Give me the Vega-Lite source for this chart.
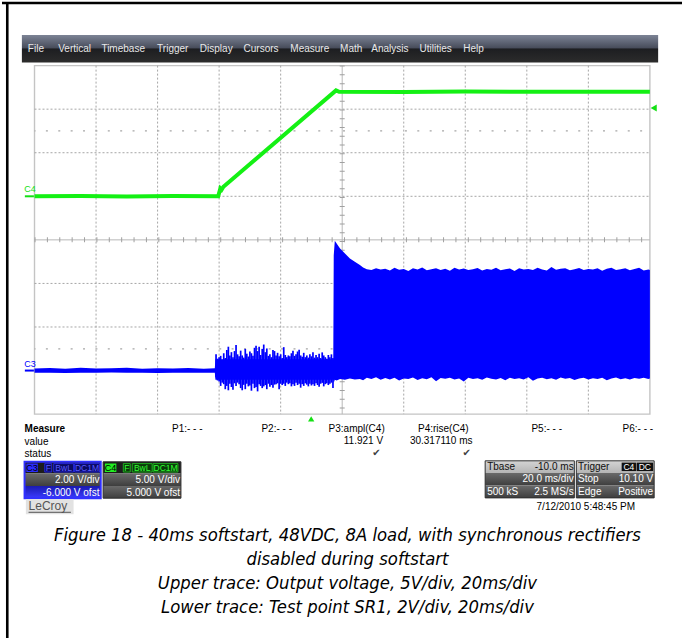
{
"$schema":"https://vega.github.io/schema/vega-lite/v6.json",
"width":684,"height":640,
"autosize":{"type":"fit","contains":"padding"},
"padding":0,
"background":"#ffffff",
"config":{"view":{"stroke":null},"text":{"font":"Liberation Sans","fontSize":10}},
"datasets":{
"border":[{"gx":-0.4426,"gy":-1.4599,"gx2":-0.4426,"gy2":13.1387},{"gx":-0.5283,"gy":-1.4371,"gx2":10.5218,"gy2":-1.4371}],
"menubar":[{"gx":-0.2052,"gy":-0.7003,"gx2":10.1341,"gy2":-0.0684}],
"menu":[{"label":"File","gx":-0.108,"gy":-0.3764},{"label":"Vertical","gx":0.385,"gy":-0.3764},{"label":"Timebase","gx":1.087,"gy":-0.3764},{"label":"Trigger","gx":1.992,"gy":-0.3764},{"label":"Display","gx":2.687,"gy":-0.3764},{"label":"Cursors","gx":3.397,"gy":-0.3764},{"label":"Measure","gx":4.157,"gy":-0.3764},{"label":"Math","gx":4.965,"gy":-0.3764},{"label":"Analysis","gx":5.473,"gy":-0.3764},{"label":"Utilities","gx":6.257,"gy":-0.3764},{"label":"Help","gx":6.968,"gy":-0.3764}],
"gridbox":[{"gx":0,"gy":0,"gx2":10,"gy2":8}],
"gridDotted":[{"gx":1,"gy":0,"gx2":1,"gy2":8},{"gx":2,"gy":0,"gx2":2,"gy2":8},{"gx":3,"gy":0,"gx2":3,"gy2":8},{"gx":4,"gy":0,"gx2":4,"gy2":8},{"gx":6,"gy":0,"gx2":6,"gy2":8},{"gx":7,"gy":0,"gx2":7,"gy2":8},{"gx":8,"gy":0,"gx2":8,"gy2":8},{"gx":9,"gy":0,"gx2":9,"gy2":8},{"gx":0,"gy":1,"gx2":10,"gy2":1},{"gx":0,"gy":2,"gx2":10,"gy2":2},{"gx":0,"gy":3,"gx2":10,"gy2":3},{"gx":0,"gy":5,"gx2":10,"gy2":5},{"gx":0,"gy":6,"gx2":10,"gy2":6},{"gx":0,"gy":7,"gx2":10,"gy2":7}],
"centerV":[{"gx":5,"gy":0,"gx2":5,"gy2":8}],
"centerH":[{"gx":0,"gy":4,"gx2":10,"gy2":4}],
"dotRows":[{"gx":0,"gy":1.5,"gx2":10,"gy2":1.5},{"gx":0,"gy":6.5,"gx2":10,"gy2":6.5}],
"c4Label":[{"label":"C4","gx":-0.165,"gy":2.84}],
"c4Marker":[{"gx":-0.157,"gy":3,"gx2":-0.01,"gy2":3}],
"c3Label":[{"label":"C3","gx":-0.165,"gy":6.855}],
"c3Marker":[{"gx":-0.157,"gy":7,"gx2":-0.01,"gy2":7}],
"trigLevel":[{"gx":10.062,"gy":0.974}],
"trigPos":[{"gx":4.496,"gy":8.109}],
"measureHead":[{"label":"Measure","gx":-0.1616,"gy":8.3417}],
"measureLeft":[{"label":"value","gx":-0.1616,"gy":8.6291},{"label":"status","gx":-0.1616,"gy":8.9256}],
"measureRight":[{"label":"P1:- - -","gx":2.7302,"gy":8.3417},{"label":"P2:- - -","gx":4.1842,"gy":8.3417},{"label":"P3:ampl(C4)","gx":5.6914,"gy":8.3417},{"label":"P4:rise(C4)","gx":7.0533,"gy":8.3417},{"label":"P5:- - -","gx":8.5719,"gy":8.3417},{"label":"P6:- - -","gx":10.0533,"gy":8.3417},{"label":"11.921 V","gx":5.664,"gy":8.615},{"label":"30.317110 ms","gx":7.1179,"gy":8.615}],
"checks":[{"label":"✔","gx":5.5574,"gy":8.9028},{"label":"✔","gx":7.021,"gy":8.9028}],
"rowDark":[{"gx":-0.1616,"gy":9.0944,"gx2":1.076,"gy2":9.3636},{"gx":1.1147,"gy":9.0944,"gx2":2.3796,"gy2":9.3636}],
"rowLight":[{"gx":7.3231,"gy":9.0716,"gx2":8.7722,"gy2":9.3522},{"gx":8.8045,"gy":9.0716,"gx2":10.0695,"gy2":9.3522}],
"rowGrey":[{"gx":-0.1616,"gy":9.3636,"gx2":1.076,"gy2":9.6487},{"gx":1.1147,"gy":9.3636,"gx2":2.3796,"gy2":9.6487},{"gx":1.1147,"gy":9.6487,"gx2":2.3796,"gy2":9.9293},{"gx":7.3231,"gy":9.3522,"gx2":8.7722,"gy2":9.6373},{"gx":7.3231,"gy":9.6373,"gx2":8.7722,"gy2":9.9224},{"gx":8.8045,"gy":9.3522,"gx2":10.0695,"gy2":9.6373},{"gx":8.8045,"gy":9.6373,"gx2":10.0695,"gy2":9.9224}],
"rowBlue":[{"gx":-0.1616,"gy":9.6487,"gx2":1.076,"gy2":9.9293}],
"boxOuterC3":[{"gx":-0.1616,"gy":9.0944,"gx2":1.076,"gy2":9.9293}],
"boxOuterGrey":[{"gx":1.1147,"gy":9.0944,"gx2":2.3796,"gy2":9.9293},{"gx":7.3231,"gy":9.0716,"gx2":8.7722,"gy2":9.9224},{"gx":8.8045,"gy":9.0716,"gx2":10.0695,"gy2":9.9224}],
"badgeBlue":[{"gx":-0.1325,"gy":9.1355,"gx2":0.0533,"gy2":9.3294}],
"badgeGreen":[{"gx":1.1438,"gy":9.1355,"gx2":1.3296,"gy2":9.3294}],
"badgeC3Rects":[{"gx":0.1664,"gy":9.1355,"gx2":0.2795,"gy2":9.3294},{"gx":0.3118,"gy":9.1355,"gx2":0.6349,"gy2":9.3294},{"gx":0.6511,"gy":9.1355,"gx2":1.0549,"gy2":9.3294}],
"badgeC4Rects":[{"gx":1.4427,"gy":9.1355,"gx2":1.5558,"gy2":9.3294},{"gx":1.5881,"gy":9.1355,"gx2":1.9112,"gy2":9.3294},{"gx":1.9274,"gy":9.1355,"gx2":2.3312,"gy2":9.3294}],
"badgeChanLabels":[{"label":"C3","gx":-0.0396,"gy":9.238},{"label":"C4","gx":1.2367,"gy":9.238}],
"badgeC3Text":[{"label":"F","gx":0.2229,"gy":9.238},{"label":"BwL","gx":0.4733,"gy":9.238},{"label":"DC1M","gx":0.853,"gy":9.238}],
"badgeC4Text":[{"label":"F","gx":1.4992,"gy":9.238},{"label":"BwL","gx":1.7496,"gy":9.238},{"label":"DC1M","gx":2.1293,"gy":9.238}],
"trigBadges":[{"gx":9.5412,"gy":9.1127,"gx2":9.7738,"gy2":9.3066},{"gx":9.7835,"gy":9.1127,"gx2":10.0533,"gy2":9.3066}],
"trigBadgeText":[{"label":"C4","gx":9.6575,"gy":9.21},{"label":"DC","gx":9.9184,"gy":9.21}],
"boxTextRight":[{"label":"2.00 V/div","gx":1.0549,"gy":9.5232},{"label":"-6.000 V ofst","gx":1.0549,"gy":9.8084},{"label":"5.00 V/div","gx":2.3635,"gy":9.5232},{"label":"5.000 V ofst","gx":2.3635,"gy":9.8084},{"label":"20.0 ms/div","gx":8.7609,"gy":9.5005},{"label":"2.5 MS/s","gx":8.7609,"gy":9.7856},{"label":"10.10 V","gx":10.0533,"gy":9.5005},{"label":"Positive","gx":10.0533,"gy":9.7856}],
"boxTextLeft":[{"label":"500 kS","gx":7.3555,"gy":9.7856},{"label":"Stop","gx":8.8336,"gy":9.5005},{"label":"Edge","gx":8.8336,"gy":9.7856}],
"hdrLeft":[{"label":"Tbase","gx":7.3555,"gy":9.2062},{"label":"Trigger","gx":8.8336,"gy":9.2062}],
"hdrRight":[{"label":"-10.0 ms","gx":8.7609,"gy":9.2062}],
"logoBg":[{"gx":-0.1405,"gy":9.9453,"gx2":0.6349,"gy2":10.2988}],
"logo":[{"label":"LeCroy","gx":-0.0969,"gy":10.105}],
"logoLine":[{"gx":-0.0969,"gy":10.2532,"gx2":0.5913,"gy2":10.2532}],
"date":[{"label":"7/12/2010 5:48:45 PM","gx":9.7577,"gy":10.1346}],
"caption":[{"label":"Figure 18 - 40ms softstart, 48VDC, 8A load, with synchronous rectifiers","gx":5.0856,"gy":10.7893},{"label":"disabled during softstart","gx":5.0856,"gy":11.3595},{"label":"Upper trace: Output voltage, 5V/div, 20ms/div","gx":5.0856,"gy":11.9069},{"label":"Lower trace: Test point SR1, 2V/div, 20ms/div","gx":5.0856,"gy":12.4544}],
"c4":[{"t":-90,"v":0},{"t":-75,"v":0.03},{"t":-60,"v":-0.02},{"t":-45,"v":0.02},{"t":-30.3,"v":0},{"t":-29.6,"v":0.9},{"t":-29.2,"v":0.75},{"t":-28.6,"v":1.1},{"t":8.0,"v":12.15},{"t":9.0,"v":12.0},{"t":30,"v":11.98},{"t":50,"v":12.02},{"t":70,"v":11.99},{"t":90,"v":12.01},{"t":110,"v":12.0}],
"c3band":[{"t":-90,"hi":0.1,"lo":-0.09},{"t":-85,"hi":0.12,"lo":-0.1},{"t":-80,"hi":0.09,"lo":-0.11},{"t":-75,"hi":0.13,"lo":-0.09},{"t":-70,"hi":0.1,"lo":-0.1},{"t":-65,"hi":0.11,"lo":-0.08},{"t":-60,"hi":0.14,"lo":-0.1},{"t":-55,"hi":0.09,"lo":-0.1},{"t":-50,"hi":0.11,"lo":-0.11},{"t":-45,"hi":0.1,"lo":-0.09},{"t":-40,"hi":0.12,"lo":-0.1},{"t":-35,"hi":0.09,"lo":-0.09},{"t":-31.4,"hi":0.11,"lo":-0.1},
{"t":-31.2,"hi":0.52,"lo":-0.42},{"t":7.1,"hi":0.52,"lo":-0.42},
{"t":7.25,"hi":5.3,"lo":-0.55},{"t":7.6,"hi":5.96,"lo":-0.42},{"t":8.2,"hi":5.84,"lo":-0.45},{"t":9.3,"hi":5.61,"lo":-0.38},{"t":10.9,"hi":5.38,"lo":-0.42},{"t":12.5,"hi":5.15,"lo":-0.36},{"t":14.1,"hi":5.0,"lo":-0.4},{"t":15.75,"hi":4.85,"lo":-0.38},{"t":16.8,"hi":4.74,"lo":-0.44},
{"t":18,"hi":4.66,"lo":-0.33},{"t":19.5,"hi":4.62,"lo":-0.38},{"t":21,"hi":4.7,"lo":-0.3},{"t":22.5,"hi":4.64,"lo":-0.42},{"t":24,"hi":4.68,"lo":-0.34},{"t":25.5,"hi":4.6,"lo":-0.4},{"t":27,"hi":4.72,"lo":-0.32},{"t":28.5,"hi":4.63,"lo":-0.45},{"t":30,"hi":4.67,"lo":-0.36},{"t":31.5,"hi":4.58,"lo":-0.38},{"t":33,"hi":4.7,"lo":-0.31},{"t":34.5,"hi":4.65,"lo":-0.43},{"t":36,"hi":4.74,"lo":-0.35},{"t":37.5,"hi":4.61,"lo":-0.39},{"t":39,"hi":4.66,"lo":-0.3},{"t":40.5,"hi":4.7,"lo":-0.48},{"t":42,"hi":4.62,"lo":-0.34},{"t":43.5,"hi":4.68,"lo":-0.37},{"t":45,"hi":4.59,"lo":-0.33},{"t":46.5,"hi":4.72,"lo":-0.41},{"t":48,"hi":4.64,"lo":-0.36},{"t":49.5,"hi":4.69,"lo":-0.5},{"t":51,"hi":4.62,"lo":-0.32},{"t":52.5,"hi":4.66,"lo":-0.38},{"t":54,"hi":4.71,"lo":-0.35},{"t":55.5,"hi":4.6,"lo":-0.42},{"t":57,"hi":4.67,"lo":-0.31},{"t":58.5,"hi":4.63,"lo":-0.37},{"t":60,"hi":4.73,"lo":-0.4},{"t":61.5,"hi":4.61,"lo":-0.34},{"t":63,"hi":4.66,"lo":-0.44},{"t":64.5,"hi":4.69,"lo":-0.32},{"t":66,"hi":4.58,"lo":-0.38},{"t":67.5,"hi":4.7,"lo":-0.35},{"t":69,"hi":4.64,"lo":-0.41},{"t":70.5,"hi":4.67,"lo":-0.3},{"t":72,"hi":4.62,"lo":-0.46},{"t":73.5,"hi":4.72,"lo":-0.36},{"t":75,"hi":4.65,"lo":-0.33},{"t":76.5,"hi":4.6,"lo":-0.39},{"t":78,"hi":4.76,"lo":-0.35},{"t":79.5,"hi":4.63,"lo":-0.42},{"t":81,"hi":4.68,"lo":-0.31},{"t":82.5,"hi":4.7,"lo":-0.37},{"t":84,"hi":4.61,"lo":-0.34},{"t":85.5,"hi":4.66,"lo":-0.43},{"t":87,"hi":4.71,"lo":-0.36},{"t":88.5,"hi":4.62,"lo":-0.32},{"t":90,"hi":4.67,"lo":-0.4},{"t":91.5,"hi":4.64,"lo":-0.35},{"t":93,"hi":4.7,"lo":-0.38},{"t":94.5,"hi":4.59,"lo":-0.33},{"t":96,"hi":4.68,"lo":-0.44},{"t":97.5,"hi":4.72,"lo":-0.36},{"t":99,"hi":4.62,"lo":-0.31},{"t":100.5,"hi":4.66,"lo":-0.39},{"t":102,"hi":4.7,"lo":-0.35},{"t":103.5,"hi":4.61,"lo":-0.41},{"t":105,"hi":4.67,"lo":-0.34},{"t":106.5,"hi":4.73,"lo":-0.37},{"t":108,"hi":4.6,"lo":-0.32},{"t":109.5,"hi":4.65,"lo":-0.38},{"t":110,"hi":4.62,"lo":-0.36}],
"c3spikes":[{"t":-31,"hi":0.75,"lo":-0.3},{"t":-30.5,"hi":0.55,"lo":-0.45},{"t":-30,"hi":0.62,"lo":-0.5},{"t":-29.5,"hi":0.68,"lo":-0.7},{"t":-29,"hi":0.5,"lo":-0.55},{"t":-28.5,"hi":0.8,"lo":-0.62},{"t":-28,"hi":0.58,"lo":-0.85},{"t":-27.5,"hi":0.95,"lo":-0.7},{"t":-27,"hi":1.1,"lo":-0.9},{"t":-26.5,"hi":0.7,"lo":-0.6},{"t":-26,"hi":0.85,"lo":-0.75},{"t":-25.5,"hi":0.62,"lo":-0.88},{"t":-25,"hi":0.9,"lo":-0.58},{"t":-24.5,"hi":1.18,"lo":-0.7},{"t":-24,"hi":0.75,"lo":-0.55},{"t":-23.5,"hi":0.66,"lo":-0.62},{"t":-23,"hi":0.92,"lo":-0.8},{"t":-22.5,"hi":0.7,"lo":-0.9},{"t":-22,"hi":0.6,"lo":-0.65},{"t":-21.5,"hi":1.0,"lo":-0.85},{"t":-21,"hi":0.78,"lo":-0.6},{"t":-20.5,"hi":0.65,"lo":-0.72},{"t":-20,"hi":0.88,"lo":-0.68},{"t":-19.5,"hi":0.8,"lo":-0.92},{"t":-19,"hi":0.68,"lo":-0.6},{"t":-18.5,"hi":1.05,"lo":-0.8},{"t":-18,"hi":1.15,"lo":-0.75},{"t":-17.5,"hi":0.9,"lo":-0.95},{"t":-17,"hi":1.1,"lo":-0.62},{"t":-16.5,"hi":0.72,"lo":-0.7},{"t":-16,"hi":1.0,"lo":-0.8},{"t":-15.5,"hi":1.2,"lo":-0.72},{"t":-15,"hi":0.85,"lo":-0.66},{"t":-14.5,"hi":1.02,"lo":-0.85},{"t":-14,"hi":0.68,"lo":-0.6},{"t":-13.5,"hi":0.75,"lo":-0.74},{"t":-13,"hi":0.62,"lo":-0.66},{"t":-12.5,"hi":0.95,"lo":-0.78},{"t":-12,"hi":0.9,"lo":-0.64},{"t":-11.5,"hi":0.7,"lo":-0.62},{"t":-11,"hi":0.82,"lo":-0.58},{"t":-10.5,"hi":0.66,"lo":-0.85},{"t":-10,"hi":0.75,"lo":-0.6},{"t":-9.5,"hi":0.58,"lo":-0.66},{"t":-9,"hi":1.08,"lo":-0.6},{"t":-8.5,"hi":0.72,"lo":-0.7},{"t":-8,"hi":0.62,"lo":-0.55},{"t":-7.5,"hi":0.7,"lo":-0.62},{"t":-7,"hi":0.66,"lo":-0.58},{"t":-6.5,"hi":0.8,"lo":-0.72},{"t":-6,"hi":0.92,"lo":-0.62},{"t":-5.5,"hi":0.68,"lo":-0.7},{"t":-5,"hi":0.75,"lo":-0.55},{"t":-4.5,"hi":0.88,"lo":-0.66},{"t":-4,"hi":0.96,"lo":-0.6},{"t":-3.5,"hi":0.7,"lo":-0.78},{"t":-3,"hi":0.64,"lo":-0.62},{"t":-2.5,"hi":0.82,"lo":-0.7},{"t":-2,"hi":0.62,"lo":-0.58},{"t":-1.5,"hi":0.7,"lo":-0.64},{"t":-1,"hi":0.6,"lo":-0.72},{"t":-0.5,"hi":0.75,"lo":-0.6},{"t":0,"hi":0.66,"lo":-0.68},{"t":0.5,"hi":0.85,"lo":-0.62},{"t":1,"hi":0.6,"lo":-0.7},{"t":1.5,"hi":0.72,"lo":-0.58},{"t":2,"hi":0.62,"lo":-0.66},{"t":2.5,"hi":0.78,"lo":-0.74},{"t":3,"hi":0.58,"lo":-0.6},{"t":3.5,"hi":0.84,"lo":-0.56},{"t":4,"hi":0.7,"lo":-0.72},{"t":4.5,"hi":0.62,"lo":-0.62},{"t":5,"hi":0.55,"lo":-0.58},{"t":5.5,"hi":0.72,"lo":-0.66},{"t":6,"hi":0.62,"lo":-0.6},{"t":6.5,"hi":0.75,"lo":-0.55},{"t":7,"hi":0.58,"lo":-0.8}]
},
"layer":[
{
"encoding":{
"x":{"field":"gx","type":"quantitative","scale":{"domain":[-0.5283,10.5218],"nice":false,"zero":false},"axis":null},
"y":{"field":"gy","type":"quantitative","scale":{"domain":[-1.4599,13.1387],"nice":false,"zero":false,"reverse":true},"axis":null}
},
"layer":[
{"data":{"name":"border"},"mark":{"type":"rule","color":"#000000","strokeWidth":2.6},"encoding":{"x2":{"field":"gx2"},"y2":{"field":"gy2"}}},
{"data":{"name":"menubar"},"mark":{"type":"rect","fill":{"gradient":"linear","x1":0,"y1":0,"x2":0,"y2":1,"stops":[{"offset":0,"color":"#7c8395"},{"offset":0.47,"color":"#474c5a"},{"offset":0.5,"color":"#1d1e21"},{"offset":1,"color":"#2c2c2c"}]}},"encoding":{"x2":{"field":"gx2"},"y2":{"field":"gy2"}}},
{"data":{"name":"menu"},"mark":{"type":"text","align":"left","baseline":"middle","color":"#e8e8e8","fontSize":10},"encoding":{"text":{"field":"label"}}},
{"data":{"name":"gridbox"},"mark":{"type":"rect","fill":"#ffffff","stroke":"#c4c4c4","strokeWidth":1.4},"encoding":{"x2":{"field":"gx2"},"y2":{"field":"gy2"}}},
{"data":{"name":"gridDotted"},"mark":{"type":"rule","color":"#a6a6a6","strokeWidth":1,"strokeDash":[2,2]},"encoding":{"x2":{"field":"gx2"},"y2":{"field":"gy2"}}},
{"data":{"name":"dotRows"},"mark":{"type":"rule","color":"#a6a6a6","strokeWidth":1.2,"strokeDash":[2,10.38],"strokeDashOffset":1},"encoding":{"x2":{"field":"gx2"},"y2":{"field":"gy2"}}},
{"data":{"name":"centerV"},"mark":{"type":"rule","color":"#b8b8b8","strokeWidth":1},"encoding":{"x2":{"field":"gx2"},"y2":{"field":"gy2"}}},
{"data":{"name":"centerH"},"mark":{"type":"rule","color":"#b8b8b8","strokeWidth":1},"encoding":{"x2":{"field":"gx2"},"y2":{"field":"gy2"}}},
{"data":{"name":"centerV"},"mark":{"type":"rule","color":"#a0a0a0","strokeWidth":5,"strokeDash":[1,7.768]},"encoding":{"x2":{"field":"gx2"},"y2":{"field":"gy2"}}},
{"data":{"name":"centerH"},"mark":{"type":"rule","color":"#a0a0a0","strokeWidth":5,"strokeDash":[1,11.38]},"encoding":{"x2":{"field":"gx2"},"y2":{"field":"gy2"}}},
{"data":{"name":"c4Label"},"mark":{"type":"text","align":"left","baseline":"middle","color":"#14e014","fontSize":9},"encoding":{"text":{"field":"label"}}},
{"data":{"name":"c4Marker"},"mark":{"type":"rule","color":"#14e014","strokeWidth":2},"encoding":{"x2":{"field":"gx2"},"y2":{"field":"gy2"}}},
{"data":{"name":"c3Label"},"mark":{"type":"text","align":"left","baseline":"middle","color":"#0000ff","fontSize":9},"encoding":{"text":{"field":"label"}}},
{"data":{"name":"c3Marker"},"mark":{"type":"rule","color":"#0000ff","strokeWidth":2},"encoding":{"x2":{"field":"gx2"},"y2":{"field":"gy2"}}},
{"data":{"name":"trigLevel"},"mark":{"type":"point","shape":"triangle-left","filled":true,"color":"#14e014","size":50,"opacity":1}},
{"data":{"name":"trigPos"},"mark":{"type":"point","shape":"triangle-up","filled":true,"color":"#14e014","size":40,"opacity":1}},
{"data":{"name":"measureHead"},"mark":{"type":"text","align":"left","baseline":"middle","color":"#000000","fontWeight":"bold","fontSize":10},"encoding":{"text":{"field":"label"}}},
{"data":{"name":"measureLeft"},"mark":{"type":"text","align":"left","baseline":"middle","color":"#000000","fontSize":10},"encoding":{"text":{"field":"label"}}},
{"data":{"name":"measureRight"},"mark":{"type":"text","align":"right","baseline":"middle","color":"#000000","fontSize":10},"encoding":{"text":{"field":"label"}}},
{"data":{"name":"checks"},"mark":{"type":"text","align":"center","baseline":"middle","color":"#404040","fontSize":10,"font":"DejaVu Sans"},"encoding":{"text":{"field":"label"}}},
{"data":{"name":"rowDark"},"mark":{"type":"rect","fill":"#1c1c1c"},"encoding":{"x2":{"field":"gx2"},"y2":{"field":"gy2"}}},
{"data":{"name":"rowLight"},"mark":{"type":"rect","fill":{"gradient":"linear","x1":0,"y1":0,"x2":0,"y2":1,"stops":[{"offset":0,"color":"#d4d4d4"},{"offset":1,"color":"#b4b4b4"}]}},"encoding":{"x2":{"field":"gx2"},"y2":{"field":"gy2"}}},
{"data":{"name":"rowGrey"},"mark":{"type":"rect","fill":{"gradient":"linear","x1":0,"y1":0,"x2":0,"y2":1,"stops":[{"offset":0,"color":"#6a6a6a"},{"offset":1,"color":"#3e3e3e"}]}},"encoding":{"x2":{"field":"gx2"},"y2":{"field":"gy2"}}},
{"data":{"name":"rowBlue"},"mark":{"type":"rect","fill":{"gradient":"linear","x1":0,"y1":0,"x2":0,"y2":1,"stops":[{"offset":0,"color":"#1a1ab0"},{"offset":1,"color":"#3a3aff"}]}},"encoding":{"x2":{"field":"gx2"},"y2":{"field":"gy2"}}},
{"data":{"name":"boxOuterC3"},"mark":{"type":"rect","fill":null,"filled":false,"stroke":"#3030ff","strokeWidth":2},"encoding":{"x2":{"field":"gx2"},"y2":{"field":"gy2"}}},
{"data":{"name":"boxOuterGrey"},"mark":{"type":"rect","fill":null,"filled":false,"stroke":"#303030","strokeWidth":1},"encoding":{"x2":{"field":"gx2"},"y2":{"field":"gy2"}}},
{"data":{"name":"badgeBlue"},"mark":{"type":"rect","fill":"#2a2aff"},"encoding":{"x2":{"field":"gx2"},"y2":{"field":"gy2"}}},
{"data":{"name":"badgeGreen"},"mark":{"type":"rect","fill":"#22ee22"},"encoding":{"x2":{"field":"gx2"},"y2":{"field":"gy2"}}},
{"data":{"name":"badgeC3Rects"},"mark":{"type":"rect","fill":"#0a0a60","stroke":"#2a2aff","strokeWidth":0.8},"encoding":{"x2":{"field":"gx2"},"y2":{"field":"gy2"}}},
{"data":{"name":"badgeC4Rects"},"mark":{"type":"rect","fill":"#0a3a0a","stroke":"#22cc22","strokeWidth":0.8},"encoding":{"x2":{"field":"gx2"},"y2":{"field":"gy2"}}},
{"data":{"name":"badgeChanLabels"},"mark":{"type":"text","align":"center","baseline":"middle","color":"#000000","fontSize":9},"encoding":{"text":{"field":"label"}}},
{"data":{"name":"badgeC3Text"},"mark":{"type":"text","align":"center","baseline":"middle","color":"#5a5aff","fontSize":8.5},"encoding":{"text":{"field":"label"}}},
{"data":{"name":"badgeC4Text"},"mark":{"type":"text","align":"center","baseline":"middle","color":"#33ff33","fontSize":8.5},"encoding":{"text":{"field":"label"}}},
{"data":{"name":"trigBadges"},"mark":{"type":"rect","fill":"#101010"},"encoding":{"x2":{"field":"gx2"},"y2":{"field":"gy2"}}},
{"data":{"name":"trigBadgeText"},"mark":{"type":"text","align":"center","baseline":"middle","color":"#ffffff","fontSize":8.5},"encoding":{"text":{"field":"label"}}},
{"data":{"name":"boxTextRight"},"mark":{"type":"text","align":"right","baseline":"middle","color":"#ffffff","fontSize":10},"encoding":{"text":{"field":"label"}}},
{"data":{"name":"boxTextLeft"},"mark":{"type":"text","align":"left","baseline":"middle","color":"#ffffff","fontSize":10},"encoding":{"text":{"field":"label"}}},
{"data":{"name":"hdrLeft"},"mark":{"type":"text","align":"left","baseline":"middle","color":"#101010","fontSize":10},"encoding":{"text":{"field":"label"}}},
{"data":{"name":"hdrRight"},"mark":{"type":"text","align":"right","baseline":"middle","color":"#101010","fontSize":10},"encoding":{"text":{"field":"label"}}},
{"data":{"name":"logoBg"},"mark":{"type":"rect","fill":"#e2e2e2"},"encoding":{"x2":{"field":"gx2"},"y2":{"field":"gy2"}}},
{"data":{"name":"logo"},"mark":{"type":"text","align":"left","baseline":"middle","color":"#555555","fontSize":12},"encoding":{"text":{"field":"label"}}},
{"data":{"name":"logoLine"},"mark":{"type":"rule","color":"#555555","strokeWidth":1},"encoding":{"x2":{"field":"gx2"},"y2":{"field":"gy2"}}},
{"data":{"name":"date"},"mark":{"type":"text","align":"right","baseline":"middle","color":"#000000","fontSize":10},"encoding":{"text":{"field":"label"}}},
{"data":{"name":"caption"},"mark":{"type":"text","align":"center","baseline":"middle","color":"#000000","fontSize":18.3,"fontStyle":"italic","font":"Liberation Sans Narrow, DejaVu Sans Condensed, Liberation Sans"},"encoding":{"text":{"field":"label"}}}
]
},
{
"data":{"name":"c4"},
"mark":{"type":"line","color":"#14f014","strokeWidth":4},
"encoding":{
"x":{"field":"t","type":"quantitative","scale":{"domain":[-100.565,120.436],"nice":false,"zero":false},"axis":null},
"y":{"field":"v","type":"quantitative","scale":{"domain":[-50.696,22.297],"nice":false,"zero":false},"axis":null}
}
},
{
"encoding":{
"x":{"field":"t","type":"quantitative","scale":{"domain":[-100.565,120.436],"nice":false,"zero":false},"axis":null},
"y":{"field":"hi","type":"quantitative","scale":{"domain":[-12.272,16.925],"nice":false,"zero":false},"axis":null},
"y2":{"field":"lo"}
},
"layer":[
{"data":{"name":"c3band"},"mark":{"type":"area","color":"#0000ff","opacity":1}},
{"data":{"name":"c3spikes"},"mark":{"type":"rule","color":"#0000ff","strokeWidth":1.7}}
]
}
],
"resolve":{"scale":{"x":"independent","y":"independent"}}
}
